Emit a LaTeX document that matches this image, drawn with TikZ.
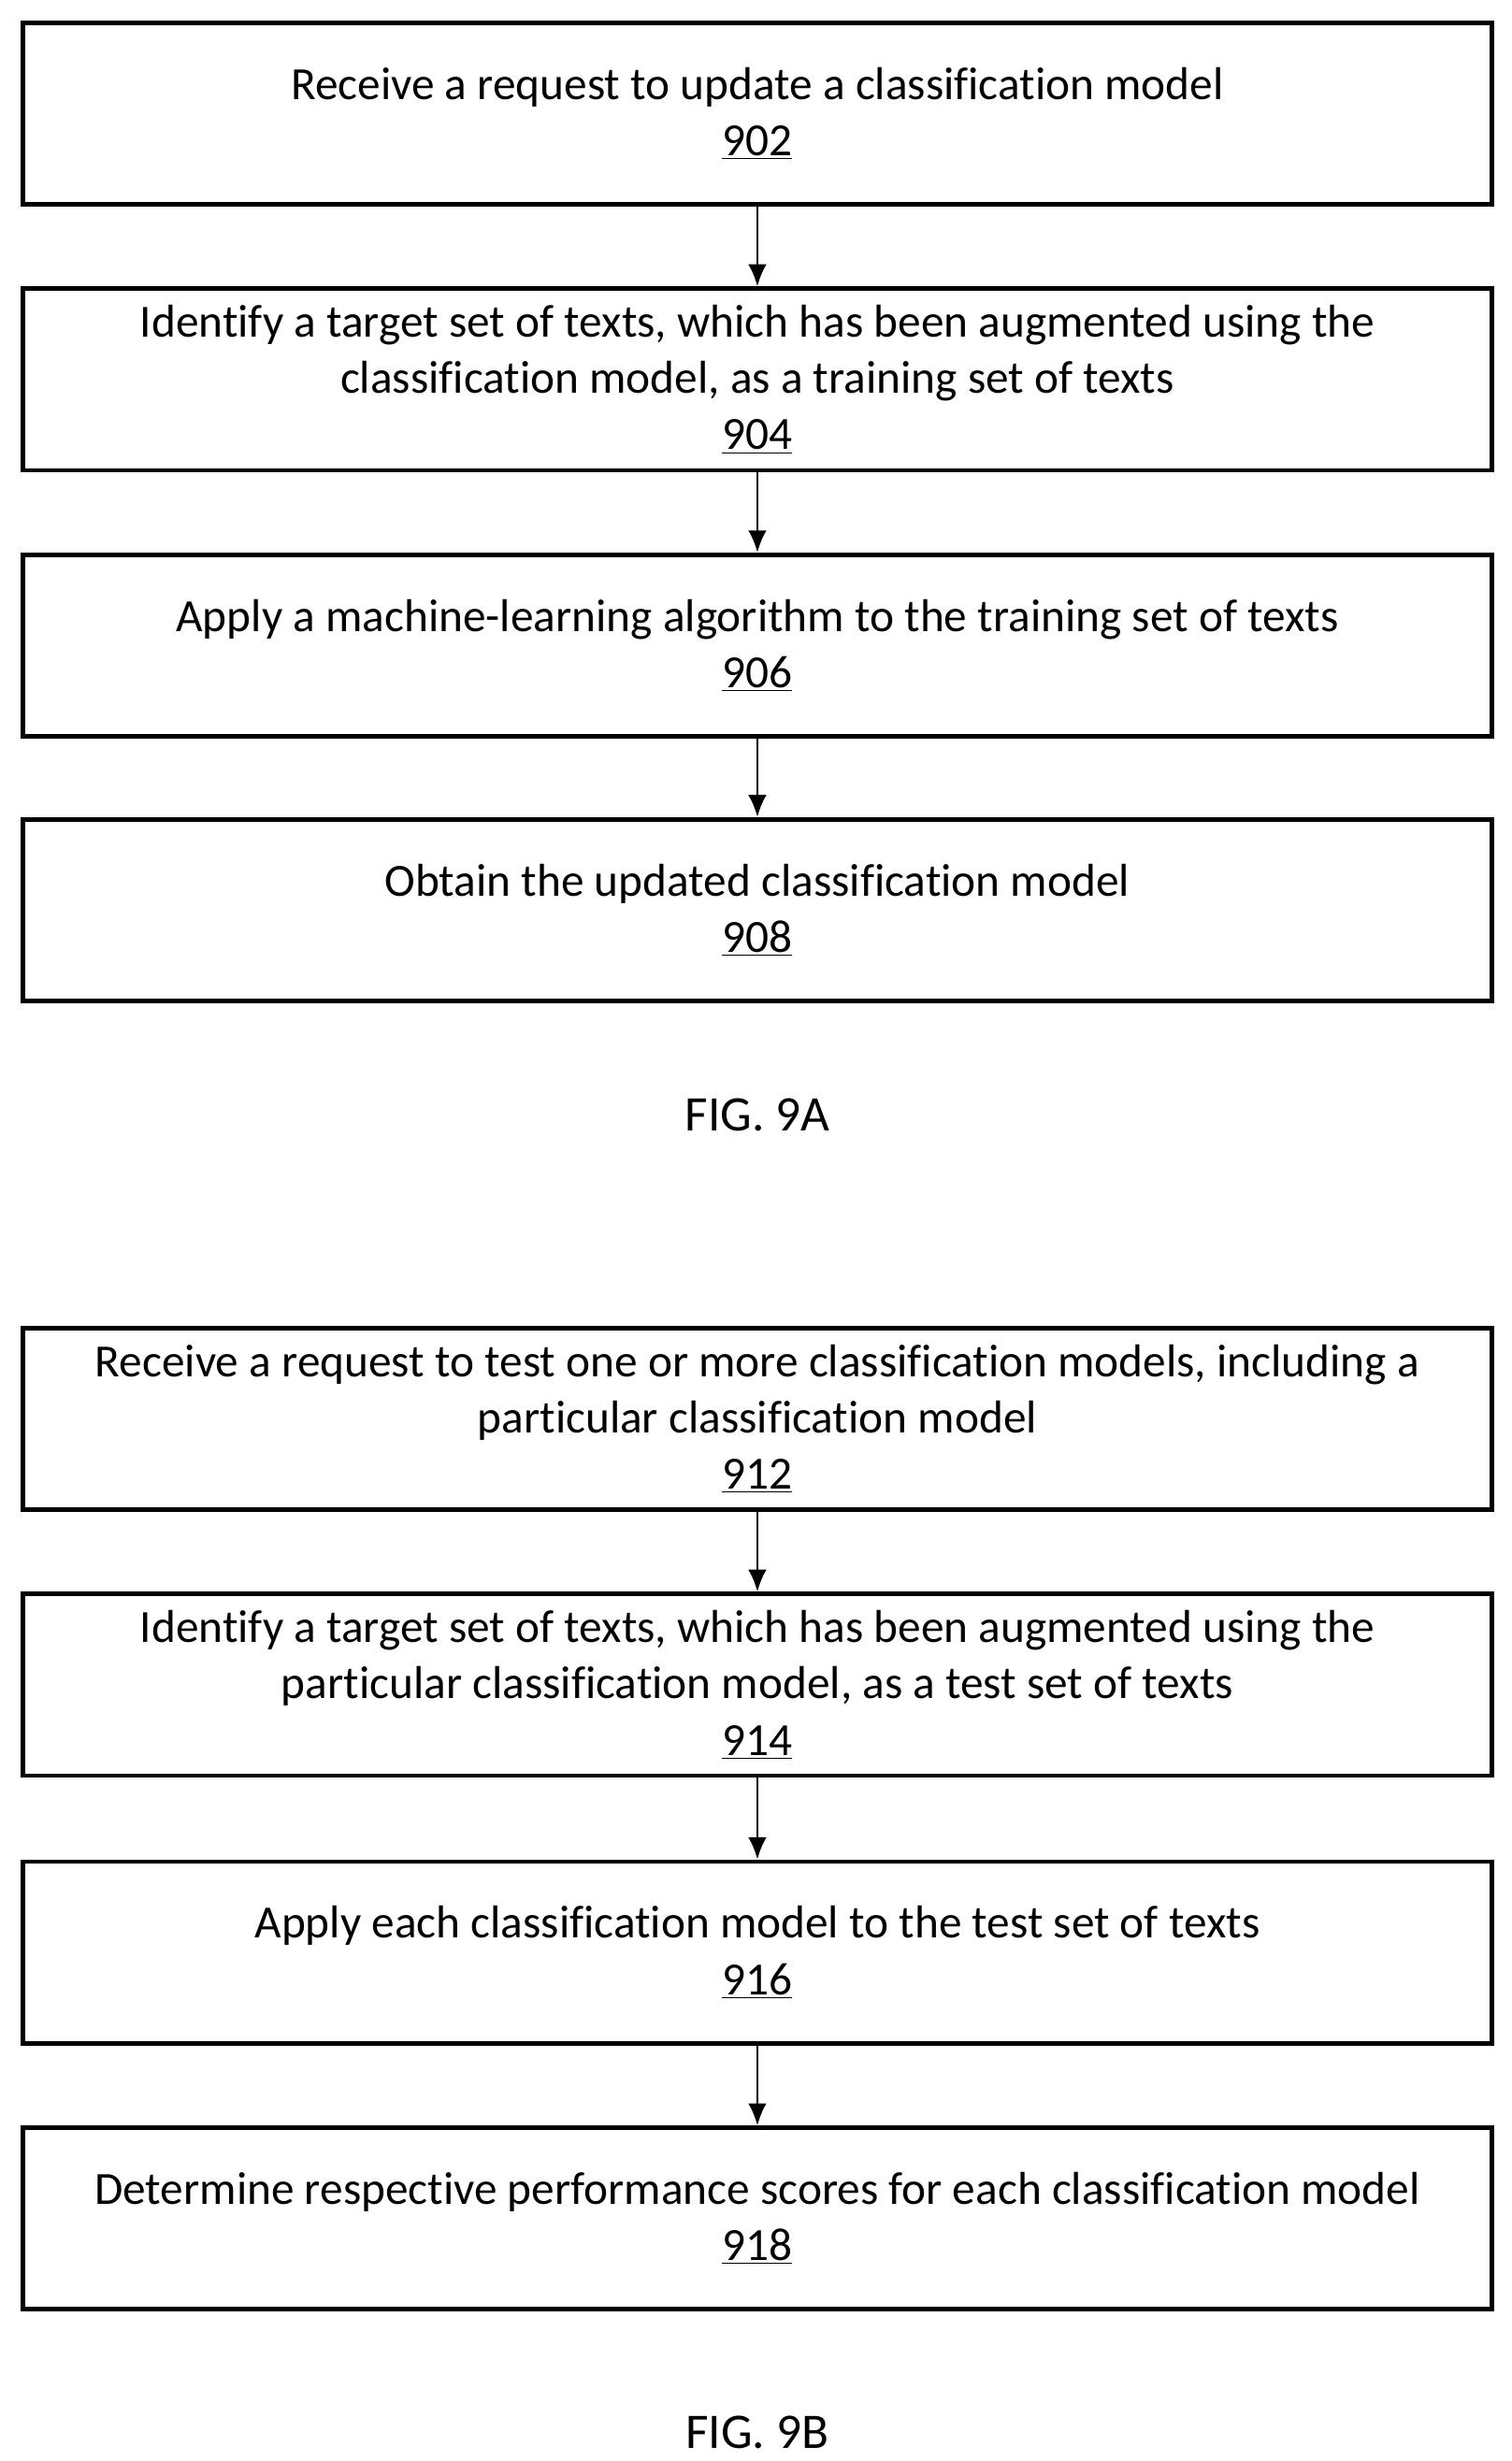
\documentclass[tikz,border=0pt]{standalone}
\usepackage{fontspec}
\setmainfont[Ligatures={NoCommon}]{Carlito}
\usetikzlibrary{positioning,arrows.meta}
\tikzset{
  stepBox/.style = {draw, line width=2.4pt, minimum width=27.98cm, minimum height=3.46cm,
    align=center, inner sep=0pt, font=\fontsize{25}{30.5}\selectfont},
  stepArrow/.style = {draw, line width=1.4pt, -{Latex[length=12pt,width=10pt]}},
  figLabel/.style = {font=\fontsize{27}{32}\selectfont}
}
\newcommand{\stepNum}[1]{\underline{#1}}
\begin{document}
\begin{tikzpicture}[x=0.03cm, y=-0.03cm]
  \useasboundingbox (0,0) rectangle (960,1563);
  % FIG. 9A
  \node[stepBox] (s902) at (481,72) {Receive a request to update a classification model\\\stepNum{902}};
  \node[stepBox] (s904) at (481,241) {Identify a target set of texts, which has been augmented using the\\classification model, as a training set of texts\\\stepNum{904}};
  \node[stepBox] (s906) at (481,410) {Apply a machine-learning algorithm to the training set of texts\\\stepNum{906}};
  \node[stepBox] (s908) at (481,578) {Obtain the updated classification model\\\stepNum{908}};
  \node[figLabel] (fig9a) at (481,708) {FIG. 9A};
  \draw[stepArrow] (s902) -- (s904);
  \draw[stepArrow] (s904) -- (s906);
  \draw[stepArrow] (s906) -- (s908);
  % FIG. 9B
  \node[stepBox] (s912) at (481,901) {Receive a request to test one or more classification models, including a\\particular classification model\\\stepNum{912}};
  \node[stepBox] (s914) at (481,1070) {Identify a target set of texts, which has been augmented using the\\particular classification model, as a test set of texts\\\stepNum{914}};
  \node[stepBox] (s916) at (481,1240) {Apply each classification model to the test set of texts\\\stepNum{916}};
  \node[stepBox] (s918) at (481,1409) {Determine respective performance scores for each classification model\\\stepNum{918}};
  \node[figLabel] (fig9b) at (481,1545) {FIG. 9B};
  \draw[stepArrow] (s912) -- (s914);
  \draw[stepArrow] (s914) -- (s916);
  \draw[stepArrow] (s916) -- (s918);
\end{tikzpicture}
\end{document}
